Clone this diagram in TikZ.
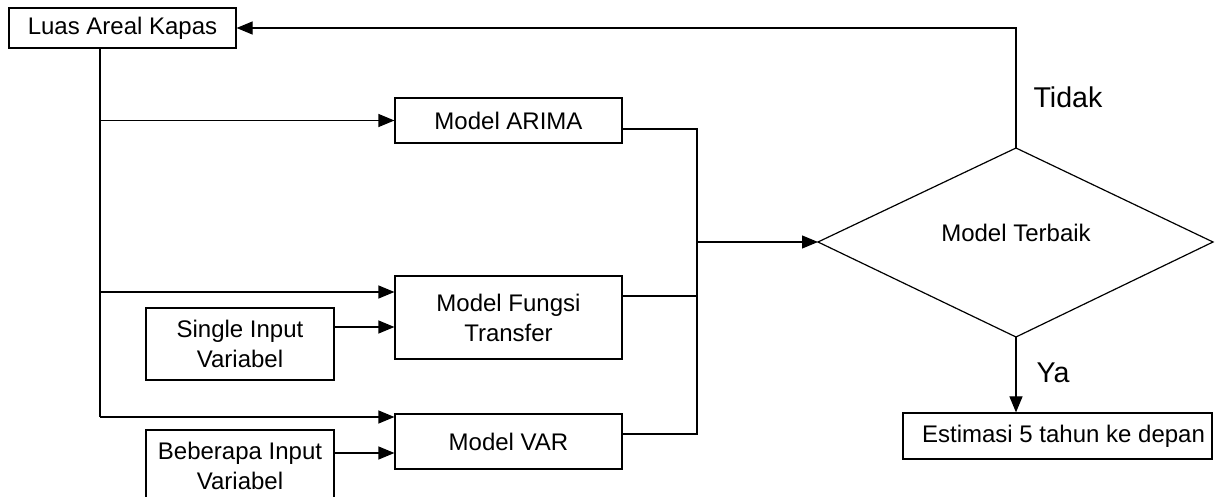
\documentclass[tikz,border=0pt]{standalone}
\usepackage{fontspec}
\setmainfont{Liberation Sans}
\usetikzlibrary{arrows.meta}
\tikzset{
  box/.style={draw, line width=0.6pt, inner sep=0pt, align=center, font=\fontsize{12}{15}\selectfont},
  ln/.style={line width=0.6pt},
  arr/.style={line width=0.6pt, -{Triangle[length=8pt,width=6.5pt]}},
  lbl/.style={font=\fontsize{14.3}{17}\selectfont, inner sep=0pt}
}
\begin{document}
\begin{tikzpicture}[x=0.5pt,y=-0.5pt]
\useasboundingbox (0,0) rectangle (1217,497);
\clip (0,0) rectangle (1217,497);
% nodes
\node[box, minimum width=113.5pt, minimum height=20pt] (luas) at (122.5,28) {Luas Areal Kapas};
\node[box, minimum width=113.5pt, minimum height=22.5pt] (arima) at (508.5,120.5) {Model ARIMA};
\node[box, minimum width=113.5pt, minimum height=41.5pt] (fungsi) at (508.5,317.5) {Model Fungsi\\Transfer};
\node[box, minimum width=113.5pt, minimum height=27.5pt] (var) at (508.5,441.5) {Model VAR};
\node[box, minimum width=94pt, minimum height=36pt] (single) at (240,344) {Single Input\\Variabel};
\node[box, minimum width=94pt, minimum height=36pt] (bebe) at (240,466) {Beberapa Input\\Variabel};
\node[box, minimum width=154.5pt, minimum height=23pt] (est) at (1057.5,436) {\hspace*{6pt}Estimasi 5 tahun ke depan};
% diamond
\coordinate (dl) at (818,242);
\coordinate (dr) at (1213,242);
\coordinate (dt) at (1016,148);
\coordinate (db) at (1016,337);
\draw[ln] (dl) -- (dt) -- (dr) -- (db) -- cycle;
\node[box, draw=none] (terbaik) at (1016,233) {Model Terbaik};
\node[lbl] (tidak) at (1068,97) {Tidak};
\node[lbl] (ya) at (1053,373) {Ya};
% trunk from Luas Areal Kapas
\coordinate (t0) at (100,48);
\coordinate (t3) at (100,417);
\draw[ln] (t0) -- (t3);
\draw[arr] (t0 |- arima.west) -- (arima.west);
\draw[arr] (100,292) -- (fungsi.west |- 0,292);
\draw[arr] (t3) -- (var.west |- t3);
\draw[arr] (single.east |- 0,327) -- (fungsi.west |- 0,327);
\draw[arr] (bebe.east |- 0,453) -- (var.west |- 0,453);
% collector bus
\coordinate (bus) at (697,242);
\draw[ln] (arima.east |- 0,129) -- (697,129) -- (697,434) -- (var.east |- 0,434);
\draw[ln] (fungsi.east |- 0,296) -- (697,296);
\draw[arr] (bus) -- (dl);
% decision outputs
\draw[arr] (dt) |- (luas.east);
\draw[arr] (db) -- (db |- est.north);
\end{tikzpicture}
\end{document}
